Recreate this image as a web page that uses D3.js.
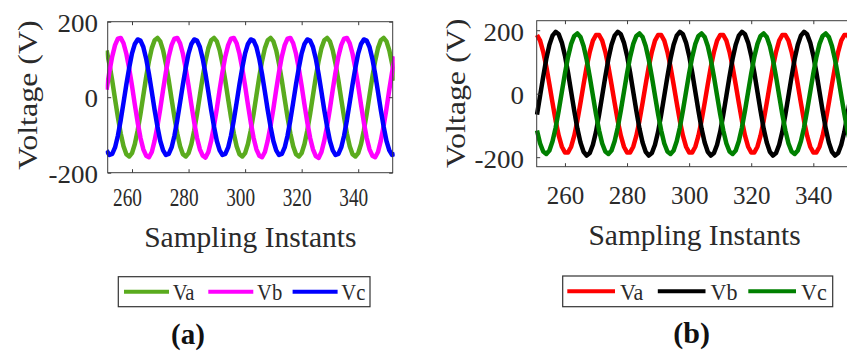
<!DOCTYPE html>
<html>
<head>
<meta charset="utf-8">
<script src="https://cdn.jsdelivr.net/npm/d3@7"></script>
<style>
  html, body { margin: 0; padding: 0; background: #fff; }
  svg { display: block; }
  text { font-family: "Liberation Serif", "Times New Roman", serif; }
</style>
</head>
<body>
<svg id="fig" width="847" height="351"></svg>
<script>
// ---- shared labels and ticks ----
const seriesNames = ["Va", "Vb", "Vc"];
const xTicks = [260, 280, 300, 320, 340];
const yTicks = [-200, 0, 200];
const firstInstant = 251;   // sampling instant of the first value in each series

// ---- (a) three-phase voltages ----
const vaA = [
  124, 88, 44, -5, -53, -96, -130, -151, -157, -148, -124, -88, -44, 5, 53, 96, 130, 151, 157, 148,
  124, 88, 44, -5, -53, -96, -130, -151, -157, -148, -124, -88, -44, 5, 53, 96, 130, 151, 157, 148,
  124, 88, 44, -5, -53, -96, -130, -151, -157, -148, -124, -88, -44, 5, 53, 96, 130, 151, 157, 148,
  124, 88, 44, -5, -53, -96, -130, -151, -157, -148, -124, -88, -44, 5, 53, 96, 130, 151, 157, 148,
  124, 88, 44, -5, -53, -96, -130, -151, -157, -148, -124, -88, -44, 5, 53, 96, 130, 151, 157, 148,
  124, 88, 44
];
const vbA = [
  20, 67, 108, 138, 155, 157, 143, 115, 76, 30, -20, -67, -108, -138, -155, -159, -145, -115, -76, -30,
  20, 67, 108, 138, 155, 157, 143, 115, 76, 30, -20, -67, -108, -138, -155, -160, -145, -115, -76, -30,
  20, 67, 108, 138, 155, 157, 143, 115, 76, 30, -20, -67, -108, -138, -155, -159, -145, -115, -76, -30,
  20, 67, 108, 138, 155, 157, 143, 115, 76, 30, -20, -67, -108, -138, -156, -161, -145, -115, -76, -30,
  20, 67, 108, 138, 155, 157, 143, 115, 76, 30, -20, -67, -108, -138, -155, -159, -145, -115, -76, -30,
  20, 67, 108
];
const vcA = [
  -141, -153, -150, -133, -102, -61, -14, 34, 78, 116, 141, 153, 150, 133, 102, 61, 14, -34, -78, -116,
  -141, -153, -150, -133, -102, -61, -14, 34, 78, 116, 141, 153, 150, 133, 102, 61, 14, -34, -78, -116,
  -141, -153, -150, -133, -102, -61, -14, 34, 78, 116, 141, 153, 150, 133, 102, 61, 14, -34, -78, -116,
  -141, -153, -150, -133, -102, -61, -14, 34, 78, 116, 141, 153, 150, 133, 102, 61, 14, -34, -78, -116,
  -141, -153, -150, -133, -102, -61, -14, 34, 78, 116, 141, 153, 150, 133, 102, 61, 14, -34, -78, -116,
  -141, -153, -150
];
const colorsA = ["#5aab1e", "#ff00ff", "#0000ff"];

// ---- (b) three-phase voltages ----
const vaB = [
  185, 167, 132, 85, 29, -29, -85, -132, -167, -185, -185, -167, -132, -85, -29, 29, 85, 132, 167, 185,
  185, 167, 132, 85, 29, -29, -85, -132, -167, -185, -185, -167, -132, -85, -29, 29, 85, 132, 167, 185,
  185, 167, 132, 85, 29, -29, -85, -132, -167, -185, -185, -167, -132, -85, -29, 29, 85, 132, 167, 185,
  185, 167, 132, 85, 29, -29, -85, -132, -167, -185, -185, -167, -132, -85, -29, 29, 85, 132, 167, 185,
  185, 167, 132, 85, 29, -29, -85, -132, -167, -185, -185, -167, -132, -85, -29, 29, 85, 132, 167, 185,
  185, 167, 132
];
const vbB = [
  -66, -6, 54, 110, 154, 183, 195, 187, 161, 120, 66, 6, -54, -110, -154, -183, -195, -187, -161, -120,
  -66, -6, 54, 110, 154, 183, 195, 187, 161, 120, 66, 6, -54, -110, -154, -183, -195, -187, -161, -120,
  -66, -6, 54, 110, 154, 183, 195, 187, 161, 120, 66, 6, -54, -110, -154, -183, -195, -187, -161, -120,
  -66, -6, 54, 110, 154, 183, 195, 187, 161, 120, 66, 6, -54, -110, -154, -183, -195, -187, -161, -120,
  -66, -6, 54, 110, 154, 183, 195, 187, 161, 120, 66, 6, -54, -110, -154, -183, -195, -187, -161, -120,
  -66, -6, 54
];
const vcB = [
  -116, -157, -182, -190, -179, -150, -107, -53, 6, 64, 116, 157, 182, 190, 179, 150, 107, 53, -6, -64,
  -116, -157, -182, -190, -179, -150, -107, -53, 6, 64, 116, 157, 182, 190, 179, 150, 107, 53, -6, -64,
  -116, -157, -182, -190, -179, -150, -107, -53, 6, 64, 116, 157, 182, 190, 179, 150, 107, 53, -6, -64,
  -116, -157, -182, -190, -179, -150, -107, -53, 6, 64, 116, 157, 182, 190, 179, 150, 107, 53, -6, -64,
  -116, -157, -182, -190, -179, -150, -107, -53, 6, 64, 116, 157, 182, 190, 179, 150, 107, 53, -6, -64,
  -116, -157, -182
];
const colorsB = ["#ff0000", "#000000", "#008000"];

// ---- layout of the two panels ----
const panels = [
  {
    id: "a", tag: "(a)", series: [vaA, vbA, vcA], colors: colorsA,
    box: { x0: 107.7, x1: 392.7, y0: 21.7, y1: 172.7 },
    xDomain: [251.4, 352.2], yDomain: [-200, 200],
    xLab: { base: 206, shift: -5, sx: 0.77 },
    yLab: { right: 98, dy: 9.5 },
    yTitle: { x: 37, y: 95 },
    xTitle: { x: 250.3, y: 247 },
    legend: { x0: 118.3, x1: 370, y0: 276.7, y1: 306.7, start: 124, pitch: 84.3, swatch: 45, gap: 48.7, sx: 0.86 },
    tagPos: { x: 188, y: 344, size: 29 }
  },
  {
    id: "b", tag: "(b)", series: [vaB, vbB, vcB], colors: colorsB,
    box: { x0: 536.7, x1: 851.2, y0: 20.7, y1: 166.7 },
    xDomain: [250.9, 352.2], yDomain: [-230, 230],
    xLab: { base: 203.5, shift: 0, sx: 1 },
    yLab: { right: 524, dy: 10 },
    yTitle: { x: 464.7, y: 93.3 },
    xTitle: { x: 694.5, y: 244.5 },
    legend: { x0: 562.7, x1: 832.7, y0: 276, y1: 306.7, start: 567.3, pitch: 90.5, swatch: 47.7, gap: 52.7, sx: 0.92 },
    tagPos: { x: 691.7, y: 342.5, size: 30 }
  }
];

const svg = d3.select("#fig");
const defs = svg.append("defs");
const axisColor = "#3c3c3c";
const textColor = "#2a2a2a";
const serif = '"Liberation Serif", "Times New Roman", serif';

function drawPanel(p) {
  const g = svg.append("g").attr("class", "panel-" + p.id);
  const x = d3.scaleLinear().domain(p.xDomain).range([p.box.x0, p.box.x1]);
  const y = d3.scaleLinear().domain(p.yDomain).range([p.box.y1, p.box.y0]);

  // plot area clip (a little slack so the thick traces reach the frame)
  const clipId = "clip-" + p.id;
  defs.append("clipPath").attr("id", clipId).append("rect")
    .attr("x", p.box.x0 - 2).attr("y", 0)
    .attr("width", p.box.x1 - p.box.x0 + 4).attr("height", p.box.y1 + 4);

  // voltage traces
  const line = d3.line()
    .x((d, i) => x(firstInstant + i))
    .y(d => y(d));
  g.append("g").attr("clip-path", `url(#${clipId})`)
    .selectAll("path").data(p.series).join("path")
    .attr("d", line)
    .attr("fill", "none")
    .attr("stroke", (d, i) => p.colors[i])
    .attr("stroke-width", 4.5)
    .attr("stroke-linejoin", "round");

  // frame
  g.append("rect")
    .attr("x", p.box.x0).attr("y", p.box.y0)
    .attr("width", p.box.x1 - p.box.x0).attr("height", p.box.y1 - p.box.y0)
    .attr("fill", "none").attr("stroke", axisColor).attr("stroke-width", 1);

  const tickLen = -3.5;

  // bottom axis with labels
  const gb = g.append("g").attr("transform", `translate(0,${p.box.y1})`)
    .call(d3.axisBottom(x).tickValues(xTicks).tickSizeInner(tickLen).tickSizeOuter(0).tickFormat(d => String(d)));
  gb.select(".domain").remove();
  gb.selectAll(".tick line").attr("stroke", axisColor);
  gb.selectAll(".tick text")
    .attr("y", 0).attr("dy", null)
    .attr("transform", `translate(${p.xLab.shift},${p.xLab.base - p.box.y1}) scale(${p.xLab.sx},1)`)
    .attr("font-size", 25)
    .attr("font-family", serif)
    .attr("fill", textColor);

  // top axis (ticks only)
  const gt = g.append("g").attr("transform", `translate(0,${p.box.y0})`)
    .call(d3.axisTop(x).tickValues(xTicks).tickSizeInner(tickLen).tickSizeOuter(0).tickFormat(""));
  gt.select(".domain").remove();
  gt.selectAll(".tick line").attr("stroke", axisColor);

  // left axis with labels
  const gl = g.append("g").attr("transform", `translate(${p.box.x0},0)`)
    .call(d3.axisLeft(y).tickValues(yTicks).tickSizeInner(tickLen).tickSizeOuter(0).tickFormat(d => String(d)));
  gl.select(".domain").remove();
  gl.selectAll(".tick line").attr("stroke", axisColor);
  gl.selectAll(".tick text")
    .attr("x", 0).attr("dy", null)
    .attr("text-anchor", "end")
    .attr("transform", `translate(${p.yLab.right - p.box.x0},${p.yLab.dy}) scale(1.08,1)`)
    .attr("font-size", 25)
    .attr("font-family", serif)
    .attr("fill", textColor);

  // right axis (ticks only)
  const gr = g.append("g").attr("transform", `translate(${p.box.x1},0)`)
    .call(d3.axisRight(y).tickValues(yTicks).tickSizeInner(tickLen).tickSizeOuter(0).tickFormat(""));
  gr.select(".domain").remove();
  gr.selectAll(".tick line").attr("stroke", axisColor);

  // axis titles
  g.append("text")
    .attr("transform", `translate(${p.yTitle.x},${p.yTitle.y}) rotate(-90) scale(1,0.85)`)
    .attr("text-anchor", "middle")
    .attr("font-size", 32)
    .attr("fill", textColor)
    .text("Voltage (V)");
  g.append("text")
    .attr("x", p.xTitle.x).attr("y", p.xTitle.y)
    .attr("text-anchor", "middle")
    .attr("font-size", 29.5)
    .attr("fill", textColor)
    .text("Sampling Instants");

  // legend
  const L = p.legend;
  const lg = g.append("g");
  lg.append("rect")
    .attr("x", L.x0).attr("y", L.y0)
    .attr("width", L.x1 - L.x0).attr("height", L.y1 - L.y0)
    .attr("fill", "#fff").attr("stroke", "#333").attr("stroke-width", 1.2);
  const midY = (L.y0 + L.y1) / 2;
  const items = lg.selectAll("g.item").data(seriesNames).join("g")
    .attr("class", "item")
    .attr("transform", (d, i) => `translate(${L.start + i * L.pitch},${midY})`);
  items.append("line")
    .attr("x1", 0).attr("x2", L.swatch).attr("y1", 0).attr("y2", 0)
    .attr("stroke", (d, i) => p.colors[i]).attr("stroke-width", 4);
  items.append("text")
    .attr("transform", `translate(${L.gap},8.5) scale(${L.sx},1)`)
    .attr("font-size", 24)
    .attr("fill", textColor)
    .text(d => d);

  // panel tag
  g.append("text")
    .attr("x", p.tagPos.x).attr("y", p.tagPos.y)
    .attr("text-anchor", "middle")
    .attr("font-size", p.tagPos.size)
    .attr("font-weight", "bold")
    .attr("fill", "#111")
    .text(p.tag);
}

panels.forEach(drawPanel);
</script>
</body>
</html>
